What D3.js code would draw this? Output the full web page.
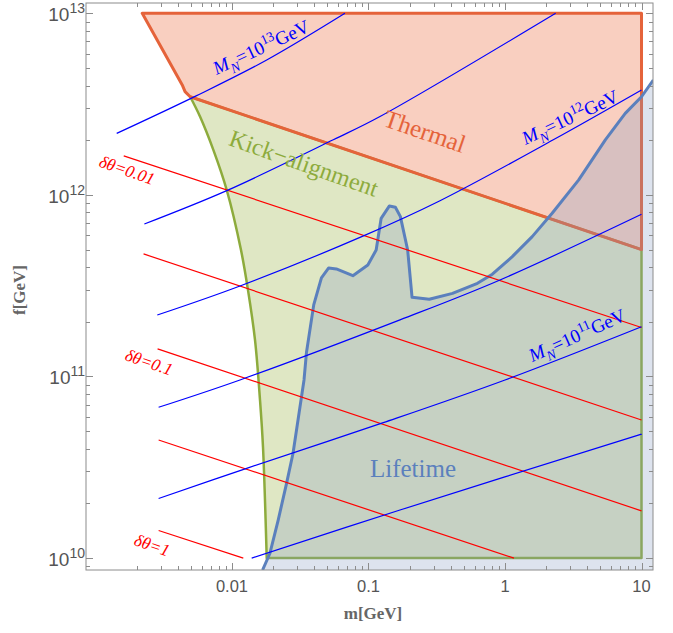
<!DOCTYPE html>
<html>
<head>
<meta charset="utf-8">
<script src="https://cdnjs.cloudflare.com/ajax/libs/d3/7.8.5/d3.min.js"></script>
<style>
  body { margin: 0; background: #fff; }
</style>
</head>
<body>
<svg id="chart" width="673" height="633"></svg>
<script>
// axis ticks
var xTicks = [0.01, 0.1, 1, 10];
var xTickLabels = ['0.01', '0.1', '1', '10'];
var yTicks = [1e10, 1e11, 1e12, 1e13];
var yTickExps = ['10', '11', '12', '13'];

// regions, [m (GeV), f (GeV)]
var thermal = [[0.0022, 1e13], [10, 1e13], [10, 5.0e11], [0.00494, 3.47e12],
    [0.00453, 3.70e12], [0.00432, 4.03e12]];
var kickEdge = [[0.00494, 3.47e12], [0.00583, 2.70e12], [0.0073, 1.77e12], [0.00915, 1.064e12],
    [0.01164, 4.97e11], [0.0131, 2.99e11], [0.01474, 1.59e11], [0.01604, 7.42e10],
    [0.01687, 4.09e10], [0.01796, 1e10]];
var lifetime = [[0.01675, 8.6e9], [0.01894, 1.06e10], [0.0218, 1.62e10], [0.0251, 2.58e10],
    [0.028, 3.78e10], [0.0323, 7.74e10], [0.0337, 9.57e10], [0.0351, 1.35e11], [0.0397, 2.48e11],
    [0.0452, 3.49e11], [0.0511, 3.96e11], [0.0581, 3.91e11], [0.0768, 3.59e11], [0.0989, 4.11e11],
    [0.1138, 4.97e11], [0.1238, 7.43e11], [0.1423, 8.69e11], [0.1574, 8.55e11], [0.1713, 7.59e11],
    [0.1936, 4.97e11], [0.2085, 2.73e11], [0.2788, 2.66e11], [0.4124, 2.87e11], [0.628, 3.26e11],
    [0.808, 3.66e11], [1.131, 4.57e11], [1.582, 5.89e11], [2.215, 7.92e11], [3.468, 1.21e12],
    [5.433, 2.01e12], [7.60, 2.81e12], [10, 3.47e12], [12.2, 4.29e12]];

// delta theta contours (red)
var deltaLines = [
    [[0.00161, 1.64e12], [10, 1.86e11]],
    [[0.00225, 4.73e11], [10, 5.76e10]],
    [[0.00285, 1.42e11], [10, 1.82e10]],
    [[0.0029, 4.47e10], [1.163, 1e10]],
    [[0.0029, 1.42e10], [0.0121, 1e10]]
];

// M_N contours (blue)
var massLines = [
    [[0.00143, 2.18e12], [0.00551, 3.52e12], [0.01796, 5.53e12], [0.0672, 1e13]],
    [[0.00228, 6.91e11], [0.00915, 1.055e12], [0.0552, 2.01e12], [0.1214, 2.70e12], [2.35, 1e13]],
    [[0.002836, 2.18e11], [0.01144, 3.15e11], [0.0892, 5.89e11], [0.334, 9.29e11], [2.258, 2.01e12], [10, 3.78e12]],
    [[0.0029, 6.77e10], [0.01144, 9.57e10], [0.1701, 2.05e11], [0.919, 3.40e11], [10, 7.82e11]],
    [[0.0029, 2.13e10], [0.0128, 3.12e10], [0.1284, 5.57e10], [1.0, 9.57e10], [10, 1.88e11]],
    [[0.01394, 1e10], [0.1701, 1.84e10], [10, 4.82e10]]
];

(function() {
var svg = d3.select('#chart');
var pL = 86, pR = 653, pT = 3, pB = 570;

var x = d3.scaleLog().domain([8.52e-4, 12.14]).range([pL, pR]);
var y = d3.scaleLog().domain([8.6e9, 1.139e13]).range([pB, pT]);

svg.append('defs').append('clipPath').attr('id', 'plot')
    .append('rect').attr('x', pL).attr('y', pT)
    .attr('width', pR - pL).attr('height', pB - pT);

var g = svg.append('g').attr('clip-path', 'url(#plot)');

var line = d3.line().x(function(d) { return x(d[0]); }).y(function(d) { return y(d[1]); });
var smooth = d3.line().x(function(d) { return x(d[0]); }).y(function(d) { return y(d[1]); })
    .curve(d3.curveCatmullRom);

// kick-alignment polygon: top follows thermal edge, right side, bottom, curved left edge
var kickPath = line([[0.00494, 3.47e12], [10, 5.0e11], [10, 1e10]]) +
    smooth(kickEdge.slice().reverse()).replace('M', 'L') + 'Z';

g.append('path').attr('d', line(thermal) + 'Z').attr('fill', '#f9cfc0');
g.append('path').attr('d', kickPath).attr('fill', '#dfe7c4')
    .attr('stroke', '#8dab3c').attr('stroke-width', 2.5).attr('stroke-linejoin', 'round');
g.append('path').attr('d', line(thermal) + 'Z').attr('fill', 'none')
    .attr('stroke', '#e5633a').attr('stroke-width', 3).attr('stroke-linejoin', 'round');

var last = lifetime[lifetime.length - 1];
var lifeFill = lifetime.concat([[last[0], 8.6e9]]);
g.append('path').attr('d', line(lifeFill) + 'Z')
    .attr('fill', 'rgb(134,155,194)').attr('fill-opacity', 0.28);
g.append('path').attr('d', line(lifetime)).attr('fill', 'none')
    .attr('stroke', '#5b80bd').attr('stroke-width', 3).attr('stroke-linejoin', 'round');

deltaLines.forEach(function(d) {
    g.append('path').attr('d', line(d)).attr('fill', 'none')
        .attr('stroke', '#ff0000').attr('stroke-width', 1.2);
});
massLines.forEach(function(d) {
    g.append('path').attr('d', smooth(d)).attr('fill', 'none')
        .attr('stroke', '#0000ff').attr('stroke-width', 1.2);
});

// frame and ticks
var frameColor = '#8c8c8c';
svg.append('rect').attr('x', pL).attr('y', pT).attr('width', pR - pL)
    .attr('height', pB - pT).attr('fill', 'none').attr('stroke', frameColor).attr('stroke-width', 1);

var xMinor = [], yMinor = [];
[0.001, 0.01, 0.1, 1, 10].forEach(function(p) {
    for (var k = 2; k <= 9; k++) {
        var v = p * k;
        if (x(v) > pL && x(v) < pR) xMinor.push(v);
    }
});
[1e9, 1e10, 1e11, 1e12, 1e13].forEach(function(p) {
    for (var k = 2; k <= 9; k++) {
        var v = p * k;
        if (y(v) > pT && y(v) < pB) yMinor.push(v);
    }
});

var ticks = svg.append('g').attr('stroke', frameColor).attr('stroke-width', 1);
function xTick(v, len) {
    var px = Math.round(x(v)) + 0.5;
    ticks.append('line').attr('x1', px).attr('x2', px).attr('y1', pB).attr('y2', pB - len);
    ticks.append('line').attr('x1', px).attr('x2', px).attr('y1', pT).attr('y2', pT + len);
}
function yTick(v, len) {
    var py = Math.round(y(v)) + 0.5;
    ticks.append('line').attr('x1', pL).attr('x2', pL + len).attr('y1', py).attr('y2', py);
    ticks.append('line').attr('x1', pR).attr('x2', pR - len).attr('y1', py).attr('y2', py);
}
xTicks.forEach(function(v) { xTick(v, 7); });
xMinor.forEach(function(v) { xTick(v, 4); });
yTicks.forEach(function(v) { yTick(v, 7); });
yMinor.forEach(function(v) { yTick(v, 4); });

var tickFont = '"Liberation Sans", Arial, sans-serif';
xTicks.forEach(function(v, i) {
    svg.append('text').attr('x', x(v)).attr('y', 592).attr('text-anchor', 'middle')
        .attr('font-family', tickFont).attr('font-size', 16.5).attr('fill', '#555')
        .text(xTickLabels[i]);
});
yTicks.forEach(function(v, i) {
    var t = svg.append('text').attr('x', 85).attr('y', y(v) + 8).attr('text-anchor', 'end')
        .attr('font-family', tickFont).attr('font-size', 19).attr('fill', '#555');
    t.append('tspan').text('10');
    t.append('tspan').attr('dy', -8).attr('font-size', 14).text(yTickExps[i]);
});

var serif = '"Liberation Serif", "Times New Roman", serif';
svg.append('text').attr('x', 373).attr('y', 619).attr('text-anchor', 'middle')
    .attr('font-family', serif).attr('font-weight', 'bold').attr('font-size', 17)
    .attr('fill', '#666').text('m[GeV]');
svg.append('text').attr('transform', 'translate(25,290) rotate(-90)').attr('text-anchor', 'middle')
    .attr('font-family', serif).attr('font-weight', 'bold').attr('font-size', 17)
    .attr('fill', '#666').text('f[GeV]');

// annotations
function label(cx, cy, angle, color, size, parts) {
    var t = svg.append('text')
        .attr('transform', 'translate(' + cx + ',' + cy + ') rotate(' + angle + ')')
        .attr('text-anchor', 'middle').attr('y', size * 0.35)
        .attr('font-family', serif).attr('font-size', size).attr('fill', color);
    var shift = 0;
    parts.forEach(function(p) {
        var s = t.append('tspan').text(p[0]);
        var want = 0;
        if (p[1] && p[1].indexOf('i') >= 0) s.attr('font-style', 'italic');
        if (p[1] && p[1].indexOf('sub') >= 0) { want = size * 0.3; s.attr('font-size', size * 0.72); }
        if (p[1] && p[1].indexOf('sup') >= 0) { want = -size * 0.4; s.attr('font-size', size * 0.72); }
        if (want !== shift) { s.attr('dy', want - shift); shift = want; }
    });
}

function massLabel(cx, cy, angle, exp) {
    label(cx, cy, angle, '#0000ff', 19,
        [['M', 'i'], ['N', 'i sub'], ['=10', ''], [exp, 'sup'], ['GeV', '']]);
}
massLabel(261, 47, -25, '13');
massLabel(570, 117, -25, '12');
massLabel(577, 335, -24, '11');

label(127, 170, 19, '#ff0000', 17, [['\u03b4\u03b8', 'i'], ['=0.01', 'i']]);
label(149, 362, 19, '#ff0000', 17, [['\u03b4\u03b8', 'i'], ['=0.1', 'i']]);
label(152, 545, 19, '#ff0000', 17, [['\u03b4\u03b8', 'i'], ['=1', 'i']]);

label(425, 131, 19, '#e5633a', 25, [['Thermal', '']]);
label(304, 163, 19.5, '#8dab3c', 24, [['Kick\u2212alignment', '']]);
label(413, 468, 0, '#5b80bd', 25, [['Lifetime', '']]);
})();
</script>
</body>
</html>
